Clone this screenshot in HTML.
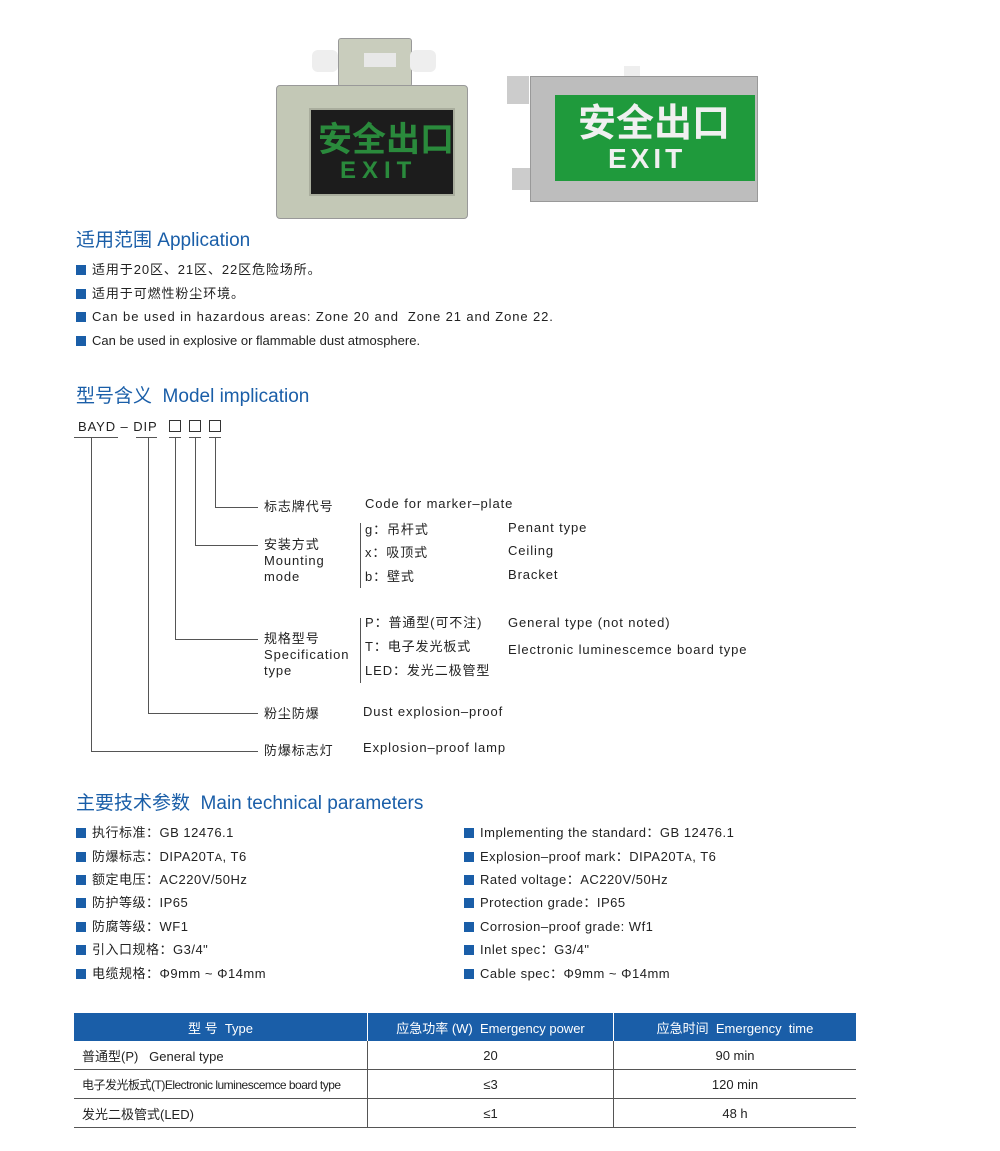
<!DOCTYPE html>
<html><head><meta charset="utf-8"><style>
body{margin:0;width:1000px;height:1151px;background:#fff;position:relative;overflow:hidden;font-family:"Liberation Sans","Noto Sans CJK SC",sans-serif;color:#222}
.a{position:absolute;white-space:nowrap}
.h{color:#1a5ea8;font-size:19px}
.t{font-size:13px;line-height:16px}
.w{letter-spacing:0.9px}
.p{letter-spacing:0.5px}
.b{position:absolute;width:10px;height:10px;background:#1a5ea8}
.l{position:absolute;background:#555}
table{position:absolute;left:74px;top:1013px;width:782px;border-collapse:collapse;font-size:13px}
th{background:#1a5ea8;color:#fff;font-weight:normal;height:28px;padding:0;border-left:1px solid #fff}
td{height:28px;padding:0;border-bottom:1px solid #555;text-align:center}
td+td{border-left:1px solid #555}
td:first-child{text-align:left;padding-left:8px}
</style></head><body>
<!-- left lamp -->
<div class="a" style="left:338px;top:38px;width:72px;height:47px;background:#c9cdbd;border:1px solid #999;border-radius:3px"></div>
<div class="a" style="left:312px;top:50px;width:26px;height:22px;background:#eee;border-radius:6px"></div>
<div class="a" style="left:410px;top:50px;width:26px;height:22px;background:#eee;border-radius:6px"></div>
<div class="a" style="left:364px;top:53px;width:32px;height:14px;background:#e8e8e8"></div>
<div class="a" style="left:276px;top:85px;width:190px;height:132px;background:#c3c8b6;border:1px solid #999;border-radius:4px"></div>
<div class="a" style="left:309px;top:108px;width:142px;height:84px;background:#1c1c1c;border:2px solid #a9ad9d"></div>
<div class="a" style="left:318px;top:117px;font-size:34px;font-weight:bold;color:#2a8a3c;font-family:'Noto Sans CJK SC',sans-serif;line-height:40px">安全出口</div>
<div class="a" style="left:340px;top:157px;font-size:24px;font-weight:bold;color:#2a8a3c;letter-spacing:6px">EXIT</div>
<!-- right lamp -->
<div class="a" style="left:507px;top:76px;width:22px;height:28px;background:#ccc"></div>
<div class="a" style="left:512px;top:168px;width:18px;height:22px;background:#ccc"></div>
<div class="a" style="left:624px;top:66px;width:16px;height:10px;background:#eee"></div>
<div class="a" style="left:530px;top:76px;width:226px;height:124px;background:#bdbdbd;border:1px solid #999"></div>
<div class="a" style="left:555px;top:95px;width:200px;height:86px;background:#1f9a3c"></div>
<div class="a" style="left:578px;top:97px;font-size:38px;font-weight:bold;color:#f0f0f0;font-family:'Noto Sans CJK SC',sans-serif;line-height:46px">安全出口</div>
<div class="a" style="left:608px;top:143px;font-size:28px;color:#f0f0f0;letter-spacing:4px;font-weight:bold">EXIT</div>

<div class="a h" style="left:76px;top:225px">适用范围 Application</div>
<div class="b" style="left:76px;top:265px"></div><div class="a t w" style="left:92px;top:262px">适用于20区、21区、22区危险场所。</div>
<div class="b" style="left:76px;top:289px"></div><div class="a t w" style="left:92px;top:286px">适用于可燃性粉尘环境。</div>
<div class="b" style="left:76px;top:312px"></div><div class="a t w" style="left:92px;top:309px">Can be used in hazardous areas: Zone 20 and&nbsp; Zone 21 and Zone 22.</div>
<div class="b" style="left:76px;top:336px"></div><div class="a t" style="left:92px;top:333px">Can be used in explosive or flammable dust atmosphere.</div>

<div class="a h" style="left:76px;top:381px">型号含义&nbsp; Model implication</div>
<div class="a t w" style="left:78px;top:419px">BAYD – DIP</div>
<div class="a" style="left:169px;top:420px;width:10px;height:10px;border:1px solid #333"></div>
<div class="a" style="left:189px;top:420px;width:10px;height:10px;border:1px solid #333"></div>
<div class="a" style="left:209px;top:420px;width:10px;height:10px;border:1px solid #333"></div>
<div class="l" style="left:74px;top:437px;width:44px;height:1px"></div>
<div class="l" style="left:136px;top:437px;width:21px;height:1px"></div>
<div class="l" style="left:169px;top:437px;width:12px;height:1px"></div>
<div class="l" style="left:189px;top:437px;width:12px;height:1px"></div>
<div class="l" style="left:209px;top:437px;width:12px;height:1px"></div>
<div class="l" style="left:91px;top:437px;width:1px;height:314px"></div><div class="l" style="left:91px;top:751px;width:167px;height:1px"></div>
<div class="l" style="left:148px;top:437px;width:1px;height:276px"></div><div class="l" style="left:148px;top:713px;width:110px;height:1px"></div>
<div class="l" style="left:175px;top:437px;width:1px;height:202px"></div><div class="l" style="left:175px;top:639px;width:83px;height:1px"></div>
<div class="l" style="left:195px;top:437px;width:1px;height:108px"></div><div class="l" style="left:195px;top:545px;width:63px;height:1px"></div>
<div class="l" style="left:215px;top:437px;width:1px;height:70px"></div><div class="l" style="left:215px;top:507px;width:43px;height:1px"></div>
<div class="l" style="left:360px;top:523px;width:1px;height:65px"></div>
<div class="l" style="left:360px;top:618px;width:1px;height:65px"></div>
<div class="a t w" style="left:264px;top:499px">标志牌代号</div><div class="a t w" style="left:365px;top:496px">Code for marker–plate</div>
<div class="a t w" style="left:264px;top:537px;line-height:16px">安装方式<br>Mounting<br>mode</div>
<div class="a t w" style="left:365px;top:522px">g：吊杆式</div><div class="a t w" style="left:508px;top:520px">Penant type</div>
<div class="a t w" style="left:365px;top:545px">x：吸顶式</div><div class="a t w" style="left:508px;top:543px">Ceiling</div>
<div class="a t w" style="left:365px;top:569px">b：壁式</div><div class="a t w" style="left:508px;top:567px">Bracket</div>
<div class="a t w" style="left:264px;top:631px;line-height:16px">规格型号<br>Specification<br>type</div>
<div class="a t w" style="left:365px;top:615px">P：普通型(可不注)</div><div class="a t w" style="left:508px;top:615px">General type (not noted)</div>
<div class="a t w" style="left:365px;top:639px">T：电子发光板式</div><div class="a t w" style="left:508px;top:642px">Electronic luminescemce board type</div>
<div class="a t w" style="left:365px;top:663px">LED：发光二极管型</div>
<div class="a t w" style="left:264px;top:706px">粉尘防爆</div><div class="a t w" style="left:363px;top:704px">Dust explosion–proof</div>
<div class="a t w" style="left:264px;top:743px">防爆标志灯</div><div class="a t w" style="left:363px;top:740px">Explosion–proof lamp</div>

<div class="a h" style="left:76px;top:788px">主要技术参数&nbsp; Main technical parameters</div>
<div class="b" style="left:76px;top:828px"></div><div class="a t p" style="left:92px;top:825px">执行标准：GB 12476.1</div>
<div class="b" style="left:76px;top:852px"></div><div class="a t p" style="left:92px;top:849px">防爆标志：DIPA20T<small>A</small>, T6</div>
<div class="b" style="left:76px;top:875px"></div><div class="a t p" style="left:92px;top:872px">额定电压：AC220V/50Hz</div>
<div class="b" style="left:76px;top:898px"></div><div class="a t p" style="left:92px;top:895px">防护等级：IP65</div>
<div class="b" style="left:76px;top:922px"></div><div class="a t p" style="left:92px;top:919px">防腐等级：WF1</div>
<div class="b" style="left:76px;top:945px"></div><div class="a t p" style="left:92px;top:942px">引入口规格：G3/4"</div>
<div class="b" style="left:76px;top:969px"></div><div class="a t p" style="left:92px;top:966px">电缆规格：Φ9mm ~ Φ14mm</div>
<div class="b" style="left:464px;top:828px"></div><div class="a t p" style="left:480px;top:825px">Implementing the standard：GB 12476.1</div>
<div class="b" style="left:464px;top:852px"></div><div class="a t p" style="left:480px;top:849px">Explosion–proof mark：DIPA20T<small>A</small>, T6</div>
<div class="b" style="left:464px;top:875px"></div><div class="a t p" style="left:480px;top:872px">Rated voltage：AC220V/50Hz</div>
<div class="b" style="left:464px;top:898px"></div><div class="a t p" style="left:480px;top:895px">Protection grade：IP65</div>
<div class="b" style="left:464px;top:922px"></div><div class="a t p" style="left:480px;top:919px">Corrosion–proof grade: Wf1</div>
<div class="b" style="left:464px;top:945px"></div><div class="a t p" style="left:480px;top:942px">Inlet spec：G3/4"</div>
<div class="b" style="left:464px;top:969px"></div><div class="a t p" style="left:480px;top:966px">Cable spec：Φ9mm ~ Φ14mm</div>

<table>
<tr><th style="width:293px;border-left:none">型 号&nbsp; Type</th><th style="width:245px">应急功率 (W)&nbsp; Emergency power</th><th>应急时间&nbsp; Emergency&nbsp; time</th></tr>
<tr><td style="height:28px">普通型(P)&nbsp;&nbsp; General type</td><td>20</td><td>90 min</td></tr>
<tr><td style="height:28px;font-size:12px;letter-spacing:-0.5px">电子发光板式(T)Electronic luminescemce board type</td><td>≤3</td><td>120 min</td></tr>
<tr><td style="height:25px">发光二极管式(LED)</td><td>≤1</td><td>48 h</td></tr>
</table>
</body></html>
